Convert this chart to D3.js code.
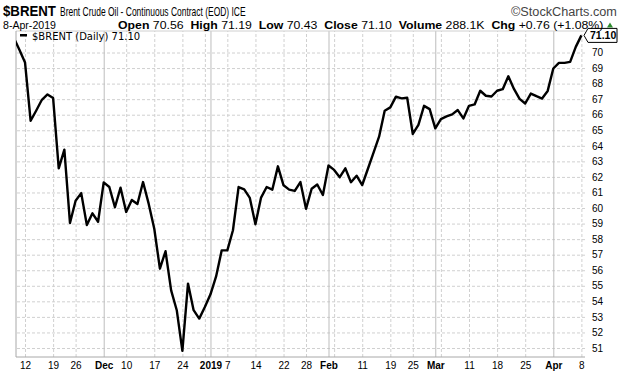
<!DOCTYPE html>
<html>
<head>
<meta charset="utf-8">
<script src="https://cdn.jsdelivr.net/npm/d3@7"></script>
<style>
    body {
        margin: 0;
        background: white;
        font-family: "Liberation Sans", Arial, sans-serif;
    }
    svg {
        display: block;
    }
    .grid line {
        stroke: #d0d0d0;
        stroke-dasharray: 3, 2;
    }
    .monthGrid line {
        stroke: #bdbdbd;
    }
</style>
</head>
<body>
<svg id="chart"></svg>
<script>
    // Data
    let dates = [
        "2018-11-09", "2018-11-12", "2018-11-13", "2018-11-14", "2018-11-15", "2018-11-16",
        "2018-11-19", "2018-11-20", "2018-11-21", "2018-11-23",
        "2018-11-26", "2018-11-27", "2018-11-28", "2018-11-29", "2018-11-30",
        "2018-12-03", "2018-12-04", "2018-12-06", "2018-12-07",
        "2018-12-10", "2018-12-11", "2018-12-12", "2018-12-13", "2018-12-14",
        "2018-12-17", "2018-12-18", "2018-12-19", "2018-12-20", "2018-12-21",
        "2018-12-24", "2018-12-26", "2018-12-27", "2018-12-28",
        "2018-12-31", "2019-01-02", "2019-01-03", "2019-01-04",
        "2019-01-07", "2019-01-08", "2019-01-09", "2019-01-10", "2019-01-11",
        "2019-01-14", "2019-01-15", "2019-01-16", "2019-01-17", "2019-01-18",
        "2019-01-22", "2019-01-23", "2019-01-24", "2019-01-25",
        "2019-01-28", "2019-01-29", "2019-01-30", "2019-01-31", "2019-02-01",
        "2019-02-04", "2019-02-05", "2019-02-06", "2019-02-07", "2019-02-08",
        "2019-02-11", "2019-02-12", "2019-02-13", "2019-02-14", "2019-02-15",
        "2019-02-19", "2019-02-20", "2019-02-21", "2019-02-22",
        "2019-02-25", "2019-02-26", "2019-02-27", "2019-02-28", "2019-03-01",
        "2019-03-04", "2019-03-05", "2019-03-06", "2019-03-07", "2019-03-08",
        "2019-03-11", "2019-03-12", "2019-03-13", "2019-03-14", "2019-03-15",
        "2019-03-18", "2019-03-19", "2019-03-20", "2019-03-21", "2019-03-22",
        "2019-03-25", "2019-03-26", "2019-03-27", "2019-03-28", "2019-03-29",
        "2019-04-01", "2019-04-02", "2019-04-03", "2019-04-04", "2019-04-05",
        "2019-04-08"
    ];

    let closes = [
        70.17, 69.36, 65.61, 66.27, 66.96, 67.30,
        67.07, 62.55, 63.75, 59.04,
        60.47, 60.96, 58.91, 59.66, 59.12,
        61.65, 61.35, 60.05, 61.31,
        59.75, 60.52, 60.26, 61.67, 60.28,
        58.67, 56.10, 57.22, 54.71, 53.43,
        50.82, 55.14, 53.43, 52.89,
        53.64, 54.45, 55.60, 57.28,
        57.28, 58.57, 61.35, 61.20, 60.65,
        58.95, 60.67, 61.35, 61.18, 62.68,
        61.46, 61.18, 61.10, 61.67,
        59.95, 61.24, 61.51, 60.84, 62.73,
        62.45, 61.98, 62.55, 61.66, 62.08,
        61.48, 62.51, 63.54, 64.59, 66.26,
        66.47, 67.16, 67.05, 67.09,
        64.76, 65.35, 66.57, 66.36, 65.12,
        65.72, 65.89, 66.02, 66.30, 65.76,
        66.57, 66.66, 67.54, 67.22, 67.17,
        67.54, 67.64, 68.47, 67.66, 67.02,
        66.72, 67.36, 67.19, 67.04, 67.53,
        68.97, 69.33, 69.33, 69.40, 70.36,
        71.10
    ];

    // close of the day before the first date, only its clipped segment shows
    let prevClose = 70.95;

    let weekTicks = [
        "2018-11-12", "2018-11-19", "2018-11-26", "2018-12-10", "2018-12-17",
        "2018-12-24", "2018-12-31", "2019-01-07", "2019-01-14", "2019-01-22",
        "2019-01-28", "2019-02-04", "2019-02-11", "2019-02-19", "2019-02-25",
        "2019-03-04", "2019-03-11", "2019-03-18", "2019-03-25", "2019-04-08"
    ];
    let monthTicks = ["2018-12-03", "2019-01-02", "2019-02-01", "2019-03-01", "2019-04-01"];

    let labelDates = [
        "2018-11-12", "2018-11-19", "2018-11-26", "2018-12-03", "2018-12-10",
        "2018-12-17", "2018-12-24", "2019-01-02", "2019-01-07", "2019-01-14",
        "2019-01-22", "2019-01-28", "2019-02-01", "2019-02-11", "2019-02-19",
        "2019-02-25", "2019-03-01", "2019-03-11", "2019-03-18", "2019-03-25",
        "2019-04-01", "2019-04-08"
    ];
    let labelTexts = [
        "12", "19", "26", "Dec", "10", "17", "24", "2019", "7", "14", "22",
        "28", "Feb", "11", "19", "25", "Mar", "11", "18", "25", "Apr", "8"
    ];

    let yTicks = [51, 52, 53, 54, 55, 56, 57, 58, 59, 60, 61, 62, 63, 64, 65, 66, 67, 68, 69, 70];

    let statNames = ["Open", "High", "Low", "Close", "Volume", "Chg"];
    let statValues = ["70.56", "71.19", "70.43", "71.10", "288.1K", "+0.76 (+1.08%)"];

    // config
    let width = 620;
    let height = 376;
    let plot = { left: 16, right: 585, top: 31, bottom: 357 };

    let svg = d3.select("#chart")
        .attr("width", width)
        .attr("height", height);

    // scales
    let xScale = d3.scalePoint()
        .domain(dates)
        .range([19.4, 581.4]);

    let yScale = d3.scaleLinear()
        .domain([51, 70])
        .range([348, 52.5]);

    // grid: horizontal lines + right labels
    let yAxis = d3.axisRight(yScale)
        .tickValues(yTicks)
        .tickSize(-(plot.right - plot.left))
        .tickPadding(7)
        .tickFormat(d => d);

    let yAxisG = svg.append("g")
        .attr("class", "grid")
        .attr("transform", `translate(${plot.right},0)`)
        .call(yAxis);
    yAxisG.select(".domain").remove();
    yAxisG.selectAll("text")
        .attr("fill", "#000")
        .style("font-family", "'Liberation Sans', Arial, sans-serif")
        .style("font-size", "10px");

    // weekly vertical lines (dashed)
    let weekAxis = d3.axisBottom(xScale)
        .tickValues(weekTicks)
        .tickSize(-(plot.bottom - plot.top))
        .tickFormat("");
    let weekG = svg.append("g")
        .attr("class", "grid")
        .attr("transform", `translate(0,${plot.bottom})`)
        .call(weekAxis);
    weekG.select(".domain").remove();

    // month vertical lines (solid)
    let monthAxis = d3.axisBottom(xScale)
        .tickValues(monthTicks)
        .tickSize(-(plot.bottom - plot.top))
        .tickFormat("");
    let monthG = svg.append("g")
        .attr("class", "monthGrid")
        .attr("transform", `translate(0,${plot.bottom})`)
        .call(monthAxis);
    monthG.select(".domain").remove();

    // frame
    svg.append("line")
        .attr("x1", plot.left).attr("x2", plot.right)
        .attr("y1", plot.top).attr("y2", plot.top)
        .attr("stroke", "#d0d0d0");
    svg.append("line")
        .attr("x1", plot.left).attr("x2", plot.right)
        .attr("y1", plot.bottom).attr("y2", plot.bottom)
        .attr("stroke", "#a8a8a8");
    svg.append("line")
        .attr("x1", plot.left).attr("x2", plot.left)
        .attr("y1", plot.top).attr("y2", plot.bottom)
        .attr("stroke", "#a8a8a8");

    // x labels
    let labelAxis = d3.axisBottom(xScale)
        .tickValues(labelDates)
        .tickSize(0)
        .tickPadding(5)
        .tickFormat((d, i) => labelTexts[i]);
    let labelG = svg.append("g")
        .attr("transform", `translate(0,${plot.bottom})`)
        .call(labelAxis);
    labelG.select(".domain").remove();
    labelG.selectAll("text")
        .attr("fill", "#000")
        .style("font-family", "'Liberation Sans', Arial, sans-serif")
        .style("font-size", "10px")
        .style("font-weight", d => monthTicks.includes(d) ? "bold" : "normal");

    // price line
    svg.append("clipPath")
        .attr("id", "plotClip")
        .append("rect")
        .attr("x", plot.left)
        .attr("y", plot.top)
        .attr("width", plot.right - plot.left)
        .attr("height", plot.bottom - plot.top);

    let points = [[xScale(dates[0]) - xScale.step(), yScale(prevClose)]]
        .concat(dates.map((d, i) => [xScale(d), yScale(closes[i])]));

    svg.append("path")
        .datum(points)
        .attr("clip-path", "url(#plotClip)")
        .attr("d", d3.line())
        .attr("fill", "none")
        .attr("stroke", "#000")
        .attr("stroke-width", 2.4)
        .attr("stroke-linejoin", "round");

    // legend
    svg.append("rect")
        .attr("x", 20).attr("y", 34)
        .attr("width", 7).attr("height", 2.5)
        .attr("fill", "#000");
    svg.append("text")
        .attr("x", 32).attr("y", 39.5)
        .style("font-family", "'DejaVu Sans', Verdana, sans-serif")
        .style("font-size", "10px")
        .text("$BRENT (Daily) " + closes[closes.length - 1].toFixed(2));

    // last value tag
    let lastY = yScale(closes[closes.length - 1]);
    svg.append("path")
        .attr("d", `M584,${lastY} L588,${lastY - 7} L617,${lastY - 7} L617,${lastY + 7} L588,${lastY + 7} Z`)
        .attr("fill", "#fff")
        .attr("stroke", "#000")
        .attr("stroke-width", 1);
    svg.append("text")
        .attr("x", 590).attr("y", lastY + 3.8)
        .style("font-size", "10.5px")
        .style("font-weight", "bold")
        .text(closes[closes.length - 1].toFixed(2));

    // header
    function fitText(sel, x, w) {
        let natural = sel.node().getComputedTextLength();
        sel.attr("transform", `translate(${x},0) scale(${w / natural},1)`);
    }

    let narrow = "'Liberation Sans Narrow', 'Liberation Sans', Arial, sans-serif";

    let sym = svg.append("text")
        .attr("y", 16.5)
        .style("font-family", narrow)
        .style("font-size", "15px")
        .style("font-weight", "bold")
        .text("$BRENT");
    fitText(sym, 3, 53);

    let title = svg.append("text")
        .attr("y", 16.5)
        .style("font-family", narrow)
        .style("font-size", "12.5px")
        .text("Brent Crude Oil - Continuous Contract (EOD) ICE");
    fitText(title, 60, 186);

    let credit = svg.append("text")
        .attr("y", 16.5)
        .attr("fill", "#444")
        .style("font-family", narrow)
        .style("font-size", "12px")
        .text("\u00A9StockCharts.com");
    fitText(credit, 511, 106);

    let dateText = svg.append("text")
        .attr("y", 29.5)
        .style("font-family", narrow)
        .style("font-size", "10.5px")
        .text("8-Apr-2019");
    fitText(dateText, 3, 53);

    let stats = svg.append("text")
        .attr("y", 29.5)
        .style("font-family", narrow)
        .style("font-size", "10.5px");
    statNames.forEach((n, i) => {
        stats.append("tspan")
            .style("font-weight", "bold")
            .text((i > 0 ? "  " : "") + n + " ");
        stats.append("tspan")
            .text(statValues[i]);
    });
    stats.attr("xml:space", "preserve");
    fitText(stats, 118, 486);

    svg.append("path")
        .attr("d", "M607,27.5 L613,27.5 L610,22.5 Z")
        .attr("fill", "#2e8b2e");
</script>
</body>
</html>
